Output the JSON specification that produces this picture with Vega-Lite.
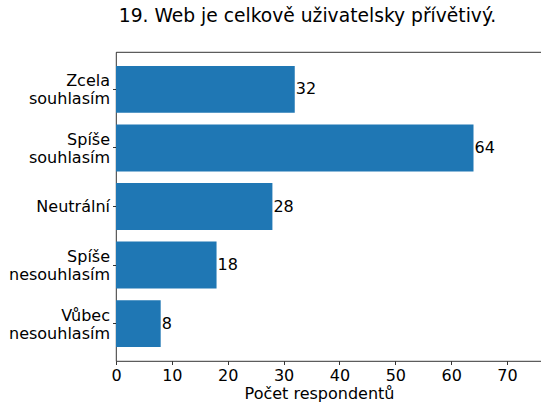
{
  "$schema": "https://vega.github.io/schema/vega-lite/v6.json",
  "autosize": {"type": "none"},
  "padding": {"left": 116, "top": 52, "right": 0, "bottom": 44},
  "width": 429,
  "height": 309,
  "background": "white",
  "title": {
    "text": "19. Web je celkově uživatelsky přívětivý.",
    "font": "DejaVu Sans",
    "fontSize": 18.7,
    "fontWeight": "normal",
    "color": "black",
    "anchor": "middle",
    "dx": -23,
    "baseline": "alphabetic",
    "offset": 11
  },
  "data": {
    "values": [
      {"odpoved": "Zcela souhlasím", "pocet": 32},
      {"odpoved": "Spíše souhlasím", "pocet": 64},
      {"odpoved": "Neutrální", "pocet": 28},
      {"odpoved": "Spíše nesouhlasím", "pocet": 18},
      {"odpoved": "Vůbec nesouhlasím", "pocet": 8}
    ]
  },
  "encoding": {
    "y": {
      "field": "odpoved",
      "type": "nominal",
      "sort": null,
      "scale": {"paddingInner": 0.2, "paddingOuter": 0.24},
      "axis": {
        "title": null,
        "labelExpr": "split(datum.label, ' ')",
        "labelLineHeight": 18,
        "labelOffset": {"condition": {"test": "indexof(datum.value, ' ') >= 0", "value": -8}, "value": 0},
        "labelFont": "DejaVu Sans",
        "labelFontSize": 16,
        "labelColor": "black",
        "labelPadding": 3,
        "tickSize": 3.5,
        "tickColor": "black",
        "tickWidth": 0.8,
        "domain": false
      }
    },
    "x": {
      "field": "pocet",
      "type": "quantitative",
      "scale": {"domain": [0, 76.8], "nice": false, "zero": true},
      "axis": {
        "title": "Počet respondentů",
        "values": [0, 10, 20, 30, 40, 50, 60, 70],
        "grid": false,
        "domain": false,
        "labelFont": "DejaVu Sans",
        "labelFontSize": 16,
        "labelColor": "black",
        "labelPadding": 3,
        "labelFlush": false,
        "tickSize": 3.5,
        "tickColor": "black",
        "tickWidth": 0.8,
        "titleFont": "DejaVu Sans",
        "titleFontSize": 16,
        "titleFontWeight": "normal",
        "titleColor": "black",
        "titleAnchor": "start",
        "titleAlign": "center",
        "titleX": 203,
        "titleY": 37,
        "titleBaseline": "alphabetic"
      }
    }
  },
  "layer": [
    {"mark": {"type": "bar", "color": "#1f77b4"}},
    {
      "mark": {"type": "text", "align": "left", "baseline": "middle", "dx": 1, "font": "DejaVu Sans", "fontSize": 16, "color": "black"},
      "encoding": {"text": {"field": "pocet", "type": "quantitative"}}
    }
  ],
  "config": {
    "view": {"stroke": "black", "strokeWidth": 0.8}
  }
}
